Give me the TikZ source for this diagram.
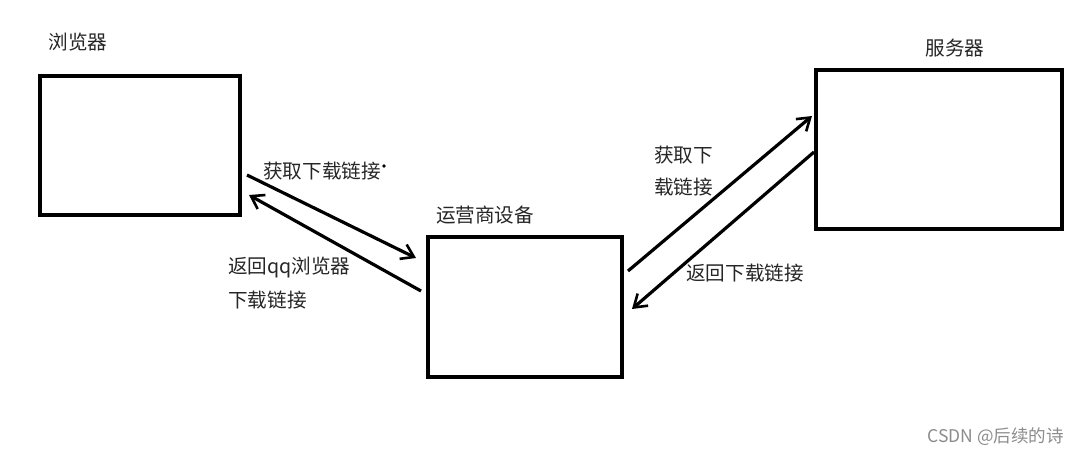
\documentclass[tikz,border=0pt]{standalone}
\usepackage{fontspec}
\setmainfont{Noto Sans CJK SC}
\usetikzlibrary{arrows.meta}
\begin{document}
\begin{tikzpicture}[x=1pt,y=-1pt,
  box/.style={draw=black,line width=3.2pt,inner sep=0pt},
  lbl/.style={font=\fontsize{19.6}{26}\selectfont,text=black!85,inner sep=0pt,align=left},
  conn/.style={line width=3.2pt,-{Straight Barb[length=12pt,width=16pt,line width=2.6pt]}}]
\useasboundingbox[fill=white] (0,0) rectangle (1080,455);
% boxes
\node[box,minimum width=200pt,minimum height=139pt] (browser) at (140,145.5) {};
\node[box,minimum width=194pt,minimum height=140pt] (isp) at (525,307) {};
\node[box,minimum width=246pt,minimum height=159pt] (server) at (939,149.5) {};
% titles
\node[lbl] (tbrowser) at (78,42) {浏览器};
\node[lbl] (tserver) at (955,48) {服务器};
\node[lbl] (tisp) at (485,215) {运营商设备};
% connector end points
\coordinate (a1s) at (247,175);
\coordinate (a1e) at (416,258);
\coordinate (a2s) at (421,291);
\coordinate (a2e) at (249,195);
\coordinate (a3s) at (628,271);
\coordinate (a3e) at (812,116);
\coordinate (a4s) at (814,152);
\coordinate (a4e) at (632,309);
\draw[conn] (a1s) -- (a1e);
\draw[conn] (a2s) -- (a2e);
\draw[conn] (a3s) -- (a3e);
\draw[conn] (a4s) -- (a4e);
% labels
\node[lbl,anchor=west] (l1) at (263,171) {获取下载链接};
\fill (384,166) circle (1.8pt);
\node[lbl,anchor=west] (l2a) at (228,268) {返回qq浏览器};
\node[lbl,anchor=west] (l2b) at (228,300) {下载链接};
\node[lbl,anchor=west] (l3a) at (654,155) {获取下};
\node[lbl,anchor=west] (l3b) at (654,187) {载链接};
\node[lbl,anchor=west] (l4) at (686,273) {返回下载链接};
\node[anchor=east,inner sep=0pt,font=\fontsize{17.5}{20}\selectfont,text=black!45] (wm) at (1064,437) {CSDN @后续的诗};
\end{tikzpicture}
\end{document}
